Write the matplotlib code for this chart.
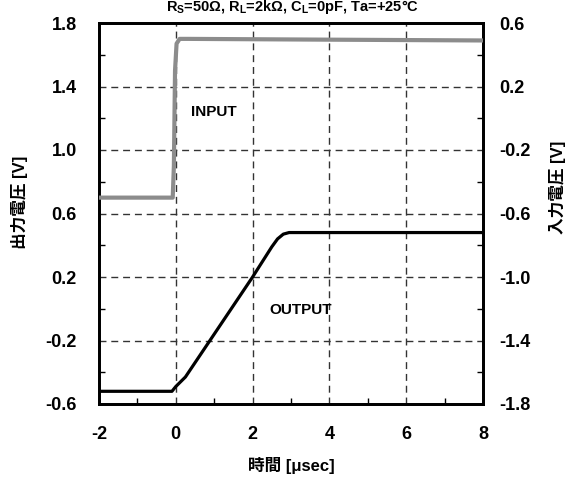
import matplotlib
matplotlib.use("Agg")
import matplotlib.pyplot as plt
from matplotlib.ticker import MultipleLocator

plt.rcParams['font.family'] = ['Liberation Sans', 'Noto Sans CJK JP', 'DejaVu Sans']
plt.rcParams['font.weight'] = 'bold'
plt.rcParams['mathtext.fontset'] = 'custom'
plt.rcParams['mathtext.rm'] = 'Liberation Sans:bold'
plt.rcParams['mathtext.bf'] = 'Liberation Sans:bold'
plt.rcParams['mathtext.default'] = 'bf'

# data
out_t = [-2.0, -0.1, 0.0, 0.25, 1.0, 2.0, 2.5, 2.65, 2.8, 2.95, 3.2, 4.0, 6.0, 8.0]
out_v = [-0.52, -0.52, -0.49, -0.43, -0.16, 0.20, 0.39, 0.44, 0.47, 0.48, 0.48, 0.48, 0.48, 0.48]
in_t = [-2.0, -0.08, -0.05, -0.02, 0.02, 0.1, 0.3, 4.0, 8.0]
in_v = [-0.50, -0.50, -0.30, 0.30, 0.47, 0.50, 0.50, 0.495, 0.49]

x_ticks = [-2, 0, 2, 4, 6, 8]
yl_ticks = [-0.6, -0.2, 0.2, 0.6, 1.0, 1.4, 1.8]
yr_ticks = [-1.8, -1.4, -1.0, -0.6, -0.2, 0.2, 0.6]

fig = plt.figure(figsize=(5.72, 4.84), dpi=100)
ax = fig.add_axes([99/572, 1-404/484, 384/572, 381/484])
ax2 = ax.twinx()

ax.plot(out_t, out_v, color='black', lw=2.3, solid_joinstyle='round', zorder=5)
ax2.plot(in_t, in_v, color='#8c8c8c', lw=3.0, solid_joinstyle='round', zorder=5)

ax.set_xlim(-2, 8)
ax.set_ylim(-0.6, 1.8)
ax2.set_ylim(-1.8, 0.6)

ax.set_xticks(x_ticks)
ax.set_xticklabels([f"{v:g}" for v in x_ticks])
ax.set_yticks(yl_ticks)
ax.set_yticklabels([f"{v:.1f}" for v in yl_ticks])
ax2.set_yticks(yr_ticks)
ax2.set_yticklabels([f"{v:.1f}" for v in yr_ticks])
ax.xaxis.set_minor_locator(MultipleLocator(1))
ax.yaxis.set_minor_locator(MultipleLocator(0.2))
ax2.yaxis.set_minor_locator(MultipleLocator(0.2))

ax.grid(True, which='major', color='#333333', ls=(0, (5, 3.5)), lw=1.0)
ax.tick_params(axis='both', which='both', direction='in', labelsize=13, width=1)
ax.tick_params(axis='both', which='major', length=0)
ax.tick_params(axis='both', which='minor', length=4)
ax.tick_params(axis='y', which='major', pad=16)
ax.tick_params(axis='x', which='major', pad=16)
ax2.tick_params(axis='y', which='both', direction='in', labelsize=13, width=1)
ax2.tick_params(axis='y', which='major', length=0, pad=12)
ax2.tick_params(axis='y', which='minor', length=4)

for a in (ax, ax2):
    for s in a.spines.values():
        s.set_linewidth(2)
        s.set_color('black')

ax.set_xlabel('時間 [μsec]', fontsize=12, fontweight='bold')
ax.set_ylabel('出力電圧 [V]', fontsize=12, fontweight='bold')
ax2.set_ylabel('入力電圧 [V]', fontsize=12, fontweight='bold')
ax.xaxis.set_label_coords(0.5, (404 - 466) / 381, transform=ax.transAxes)
ax.yaxis.set_label_coords((20 - 99) / 384, (404 - 202) / 381)
ax2.yaxis.set_label_coords((557 - 99) / 384, (404 - 187) / 381)
ax.xaxis.label.set_va('center')
ax.yaxis.label.set_va('center')
ax2.yaxis.label.set_va('center')

ax.text(1.0, 1.24, 'INPUT', fontsize=11, fontweight='bold', ha='center', va='center')
ax.text(3.25, -0.01, 'OUTPUT', fontsize=11, fontweight='bold', ha='center', va='center')

fig.text(293/572, 1-10.5/484, r'R$_\mathrm{S}$=50Ω, R$_\mathrm{L}$=2kΩ, C$_\mathrm{L}$=0pF, Ta=+25°C',
         fontsize=10.5, fontweight='bold', ha='center', va='baseline')

fig.savefig('out.png', dpi=100)
